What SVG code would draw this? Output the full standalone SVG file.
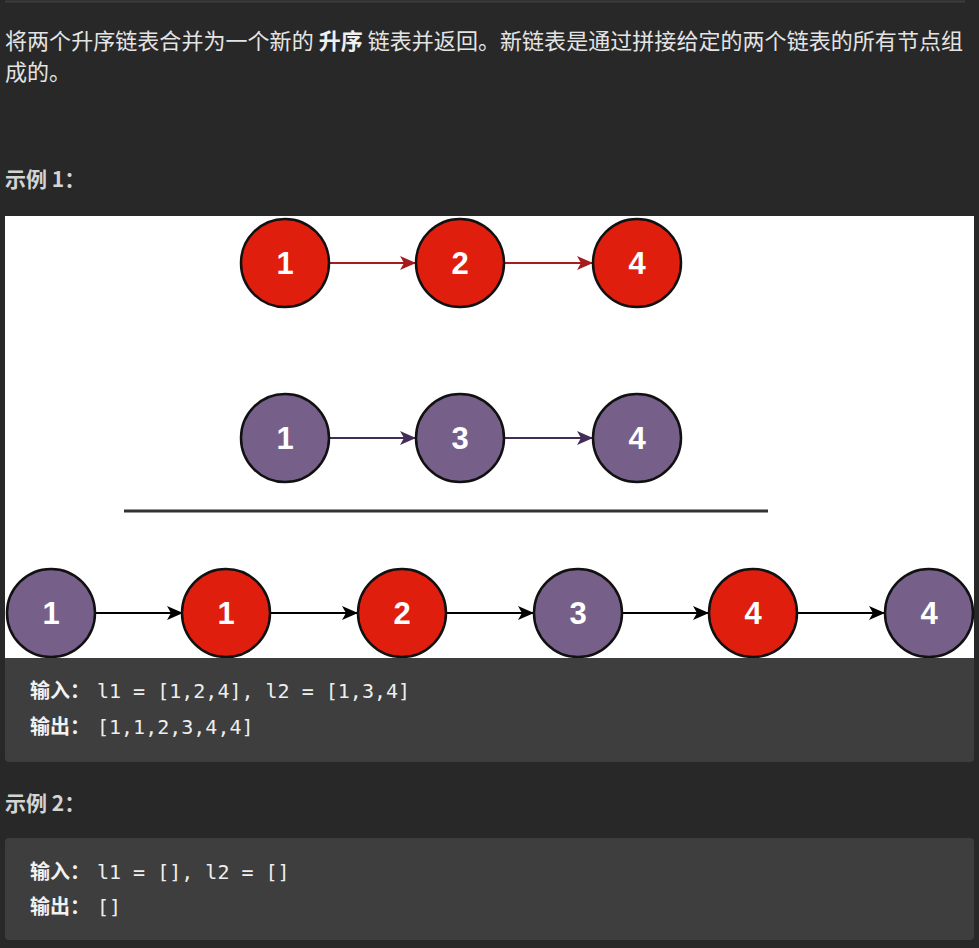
<svg xmlns="http://www.w3.org/2000/svg" width="979" height="948" viewBox="0 0 979 948">
<style>
.t{font-family:"Noto Sans CJK SC","Noto Sans",sans-serif;fill:#e4e4e4;font-size:22px}
.h{font-family:"Noto Sans CJK SC","Noto Sans",sans-serif;fill:#d4d4d4;font-size:21px;font-weight:bold}
.c{font-family:"DejaVu Sans Mono","Liberation Mono","Noto Sans CJK SC",monospace;fill:#eeeeee;font-size:20px}
.cb{font-family:"Noto Sans CJK SC",sans-serif;font-weight:bold;fill:#f2f2f2;font-size:20px}
.red{fill:#e01e0e;stroke:#111;stroke-width:2.5}
.pur{fill:#76608a;stroke:#111;stroke-width:2.5}
.lbl{font-family:"Liberation Sans",Arial,sans-serif;font-weight:bold;font-size:31px;fill:#fff;text-anchor:middle}
.ar{stroke:#a51c1c;stroke-width:2;fill:none}
.ap{stroke:#432d57;stroke-width:2;fill:none}
.ak{stroke:#000;stroke-width:2;fill:none}
</style>
<defs>
<marker id="mr" markerUnits="userSpaceOnUse" markerWidth="16" markerHeight="14" refX="15" refY="7" orient="auto"><path d="M0,0 L16,7 L0,14 L4,7 Z" fill="#a51c1c"/></marker>
<marker id="mp" markerUnits="userSpaceOnUse" markerWidth="16" markerHeight="14" refX="15" refY="7" orient="auto"><path d="M0,0 L16,7 L0,14 L4,7 Z" fill="#432d57"/></marker>
<marker id="mk" markerUnits="userSpaceOnUse" markerWidth="16" markerHeight="14" refX="15" refY="7" orient="auto"><path d="M0,0 L16,7 L0,14 L4,7 Z" fill="#000"/></marker>
</defs>
<rect x="0" y="0" width="979" height="948" fill="#282828"/>
<line x1="5" y1="1.5" x2="965" y2="1.5" stroke="#3c3c3c" stroke-width="2"/>
<text class="t" x="5" y="49" textLength="958" lengthAdjust="spacing">将两个升序链表合并为一个新的 <tspan font-weight="bold" fill="#f0f0f0">升序</tspan> 链表并返回。新链表是通过拼接给定的两个链表的所有节点组</text>
<text class="t" x="5" y="80">成的。</text>
<text class="h" x="5" y="187">示例 1：</text>
<rect x="5" y="216" width="969" height="442" fill="#ffffff"/>
<line x1="124" y1="511" x2="768" y2="511" stroke="#333333" stroke-width="3"/>
<g id="connectors">
<line class="ar" x1="330" y1="263" x2="415" y2="263" marker-end="url(#mr)"/>
<line class="ar" x1="505" y1="263" x2="592" y2="263" marker-end="url(#mr)"/>
<line class="ap" x1="330" y1="438" x2="415" y2="438" marker-end="url(#mp)"/>
<line class="ap" x1="505" y1="438" x2="592" y2="438" marker-end="url(#mp)"/>
<line class="ak" x1="95" y1="613" x2="182" y2="613" marker-end="url(#mk)"/>
<line class="ak" x1="271" y1="613" x2="357" y2="613" marker-end="url(#mk)"/>
<line class="ak" x1="446" y1="613" x2="533" y2="613" marker-end="url(#mk)"/>
<line class="ak" x1="622" y1="613" x2="708" y2="613" marker-end="url(#mk)"/>
<line class="ak" x1="797" y1="613" x2="884" y2="613" marker-end="url(#mk)"/>
</g>
<g id="a1"><circle class="red" cx="285" cy="263" r="44"/><text class="lbl" x="285" y="274">1</text></g>
<g id="a2"><circle class="red" cx="460" cy="263" r="44"/><text class="lbl" x="460" y="274">2</text></g>
<g id="a3"><circle class="red" cx="637" cy="263" r="44"/><text class="lbl" x="637" y="274">4</text></g>
<g id="b1"><circle class="pur" cx="285" cy="438" r="44"/><text class="lbl" x="285" y="449">1</text></g>
<g id="b2"><circle class="pur" cx="460" cy="438" r="44"/><text class="lbl" x="460" y="449">3</text></g>
<g id="b3"><circle class="pur" cx="637" cy="438" r="44"/><text class="lbl" x="637" y="449">4</text></g>
<g id="m1"><circle class="pur" cx="51" cy="613" r="44"/><text class="lbl" x="51" y="624">1</text></g>
<g id="m2"><circle class="red" cx="226" cy="613" r="44"/><text class="lbl" x="226" y="624">1</text></g>
<g id="m3"><circle class="red" cx="402" cy="613" r="44"/><text class="lbl" x="402" y="624">2</text></g>
<g id="m4"><circle class="pur" cx="578" cy="613" r="44"/><text class="lbl" x="578" y="624">3</text></g>
<g id="m5"><circle class="red" cx="753" cy="613" r="44"/><text class="lbl" x="753" y="624">4</text></g>
<g id="m6"><circle class="pur" cx="929" cy="613" r="44"/><text class="lbl" x="929" y="624">4</text></g>
<rect x="0" y="658" width="979" height="290" fill="#282828"/>
<path d="M5,658 H974 V758 A4,4 0 0 1 970,762 H9 A4,4 0 0 1 5,758 Z" fill="#3e3e3e"/>
<text x="30" y="698"><tspan class="cb">输入：</tspan><tspan class="c" x="97">l1 = [1,2,4], l2 = [1,3,4]</tspan></text>
<text x="30" y="734"><tspan class="cb">输出：</tspan><tspan class="c" x="97">[1,1,2,3,4,4]</tspan></text>
<text class="h" x="5" y="811">示例 2：</text>
<rect x="5" y="838" width="969" height="102" rx="4" fill="#3e3e3e"/>
<text x="30" y="879"><tspan class="cb">输入：</tspan><tspan class="c" x="97">l1 = [], l2 = []</tspan></text>
<text x="30" y="914"><tspan class="cb">输出：</tspan><tspan class="c" x="97">[]</tspan></text>
</svg>
